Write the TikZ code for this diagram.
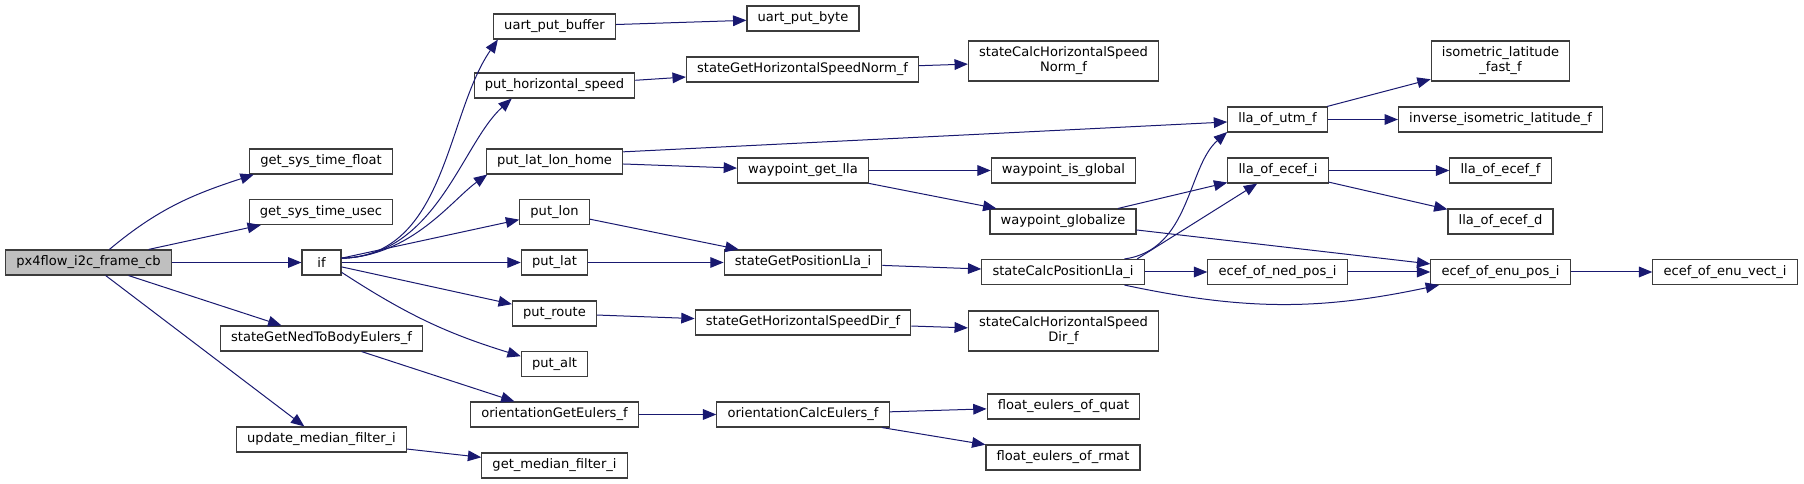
\documentclass[tikz,border=0pt]{standalone}
\usepackage{fontspec}
\setmainfont{DejaVu Sans}
\usepackage{tikz}
\usetikzlibrary{arrows.meta}
\definecolor{navy}{HTML}{191970}
\definecolor{frame}{HTML}{3C3C3C}
\definecolor{rootfill}{HTML}{BFBFBF}
\tikzset{
  >={Triangle[length=10pt,width=8pt]},
  fn/.style={draw=frame,line width=0.85pt,fill=white,inner xsep=8pt,inner ysep=0pt,minimum height=18.75pt,font=\fontsize{9.8}{11.3}\selectfont,align=center},
  fnroot/.style={fn,fill=rootfill},
  fntwo/.style={fn,minimum height=30pt},
  call/.style={->,draw=navy,line width=0.75pt},
}

\begin{document}
\begin{tikzpicture}[x=0.75pt,y=0.75pt]
\useasboundingbox (0,0) rectangle (1804,-484);
\node[fnroot] (root) at (88.5,-262.5) {px4flow\_i2c\_frame\_cb};
\node[fn] (gstf) at (321,-161.5) {get\_sys\_time\_float};
\node[fn] (gstu) at (321,-212) {get\_sys\_time\_usec};
\node[fn,minimum width=29.25pt] (if) at (321.5,-262.5) {if};
\node[fn] (sgnb) at (321.5,-338.5) {stateGetNedToBodyEulers\_f};
\node[fn] (umf) at (321.5,-439.5) {update\_median\_filter\_i};
\node[fn] (upbuf) at (554.5,-26.5) {uart\_put\_buffer};
\node[fn] (upbyte) at (803,-18.5) {uart\_put\_byte};
\node[fn] (phs) at (554.5,-85.5) {put\_horizontal\_speed};
\node[fn] (sghn) at (802.5,-69.5) {stateGetHorizontalSpeedNorm\_f};
\node[fn] (pllh) at (554.5,-161.5) {put\_lat\_lon\_home};
\node[fn] (wgl) at (803,-170.5) {waypoint\_get\_lla};
\node[fn] (plon) at (554.5,-212) {put\_lon};
\node[fn] (plat) at (554.5,-262.5) {put\_lat};
\node[fn] (sgpl) at (803,-262.5) {stateGetPositionLla\_i};
\node[fn] (proute) at (554.5,-313.5) {put\_route};
\node[fn] (sghd) at (803,-322.5) {stateGetHorizontalSpeedDir\_f};
\node[fn] (palt) at (554.5,-364) {put\_alt};
\node[fn] (oge) at (554.5,-414.5) {orientationGetEulers\_f};
\node[fn] (oce) at (803,-414.5) {orientationCalcEulers\_f};
\node[fn] (gmf) at (554.5,-465.5) {get\_median\_filter\_i};
\node[fntwo] (schn) at (1063.5,-61) {stateCalcHorizontalSpeed\\Norm\_f};
\node[fn] (wig) at (1063.5,-170.5) {waypoint\_is\_global};
\node[fn] (wglob) at (1063,-221.5) {waypoint\_globalize};
\node[fn] (scpl) at (1063,-272) {stateCalcPositionLla\_i};
\node[fntwo] (schd) at (1063.5,-331) {stateCalcHorizontalSpeed\\Dir\_f};
\node[fn] (feq) at (1063.5,-406.5) {float\_eulers\_of\_quat};
\node[fn] (fer) at (1063,-457.5) {float\_eulers\_of\_rmat};
\node[fn] (lut) at (1277.5,-119.5) {lla\_of\_utm\_f};
\node[fn] (lei) at (1278,-170.5) {lla\_of\_ecef\_i};
\node[fn] (enp) at (1277.5,-272) {ecef\_of\_ned\_pos\_i};
\node[fntwo] (ilf) at (1500.5,-61) {isometric\_latitude\\\_fast\_f};
\node[fn] (iil) at (1500.5,-119.5) {inverse\_isometric\_latitude\_f};
\node[fn] (lef) at (1500.5,-170.5) {lla\_of\_ecef\_f};
\node[fn] (led) at (1500.5,-221.5) {lla\_of\_ecef\_d};
\node[fn] (eep) at (1500.5,-272) {ecef\_of\_enu\_pos\_i};
\node[fn] (eev) at (1725,-272) {ecef\_of\_enu\_vect\_i};
\draw[call] (root.32) to[out=40,in=198] (gstf.191);
\draw[call] (root)--(gstu); \draw[call] (root)--(if); \draw[call] (root)--(sgnb); \draw[call] (root)--(umf);
\draw[call] (if.12) .. controls +(105,2) and +(-52,-75) .. (upbuf.193);
\draw[call] (if.12) .. controls +(95,2) and +(-50,-45) .. (phs.197);
\draw[call] (if.12) .. controls +(70,2) and +(-35,-25) .. (pllh.191);
\draw[call] (if)--(plon); \draw[call] (if)--(plat); \draw[call] (if)--(proute);
\draw[call] (if.-26) to[bend right=8] (palt.167);
\draw[call] (upbuf)--(upbyte); \draw[call] (phs)--(sghn); \draw[call] (sghn)--(schn);
\draw[call] (pllh.8)--(lut); \draw[call] (pllh)--(wgl);
\draw[call] (wgl)--(wig); \draw[call] (wgl)--(wglob);
\draw[call] (wglob)--(lei); \draw[call] (wglob)--(eep);
\draw[call] (plon)--(sgpl); \draw[call] (plat)--(sgpl); \draw[call] (sgpl)--(scpl);
\draw[call] (scpl.12) .. controls +(66,9) and +(-40,-35) .. (lut.194);
\draw[call] (scpl.10)--(lei); \draw[call] (scpl)--(enp);
\draw[call] (scpl.-12) to[out=-12,in=192] (eep.192);
\draw[call] (enp)--(eep); \draw[call] (eep)--(eev);
\draw[call] (lut)--(ilf); \draw[call] (lut)--(iil);
\draw[call] (lei)--(lef); \draw[call] (lei)--(led);
\draw[call] (proute)--(sghd); \draw[call] (sghd)--(schd);
\draw[call] (sgnb)--(oge); \draw[call] (oge)--(oce);
\draw[call] (oce)--(feq); \draw[call] (oce)--(fer);
\draw[call] (umf)--(gmf);
\end{tikzpicture}
\end{document}
